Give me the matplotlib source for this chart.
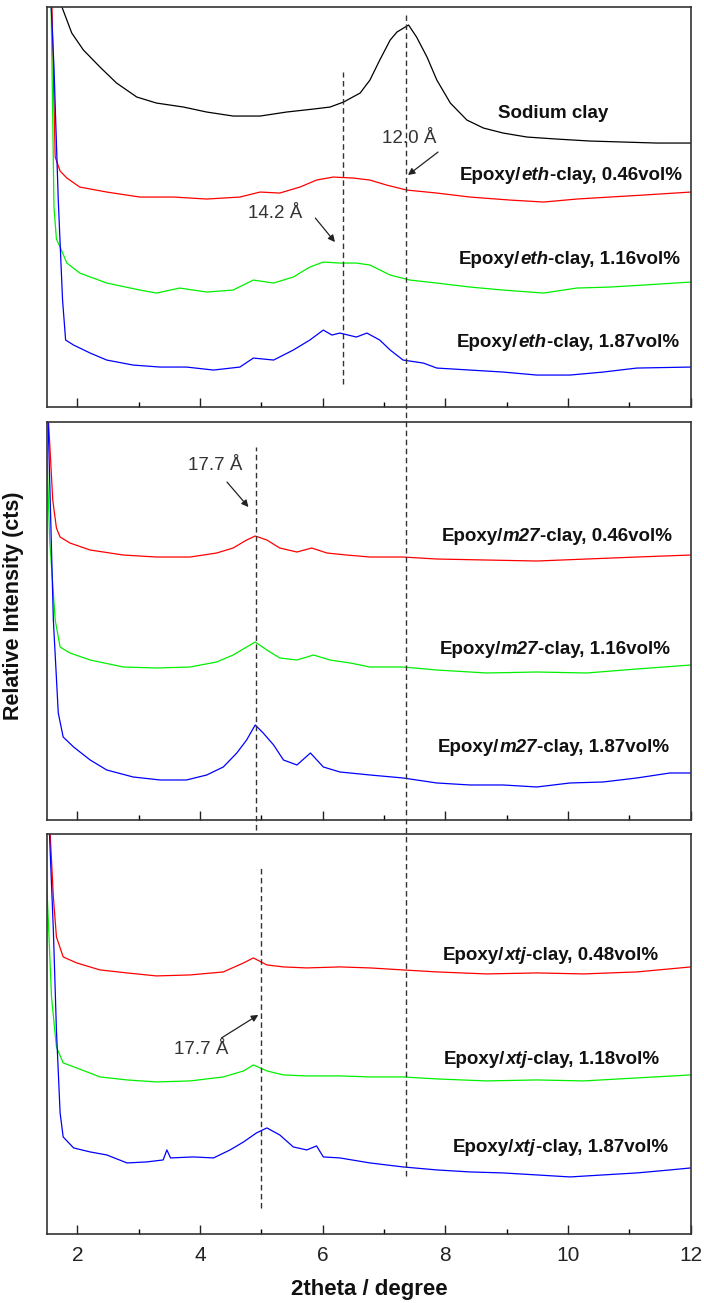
import matplotlib
matplotlib.use("Agg")
import matplotlib.pyplot as plt
from matplotlib.ticker import MultipleLocator

plt.rcParams["font.family"] = ["Liberation Sans", "DejaVu Sans"]

# ---- data (2theta in degree, intensity in arbitrary units per panel) ----
# panel 1: sodium clay and epoxy/eth-clay
na_x = [1.72, 1.75, 1.91, 2.10, 2.37, 2.64, 2.97, 3.29, 3.73, 4.11, 4.54, 4.98, 5.41, 5.85,
        6.12, 6.34, 6.61, 6.77, 6.93, 7.10, 7.21, 7.40, 7.53, 7.70, 7.86, 8.08, 8.35, 8.62, 8.94,
        9.33, 9.81, 10.36, 10.90, 11.44, 12.0]
na_y = [415, 400, 374, 357, 340, 324, 310, 304, 300, 295, 291, 291, 295, 298,
        300, 305, 314, 327, 347, 367, 375, 382, 370, 350, 327, 304, 287, 279, 274,
        270, 268, 266, 265, 264, 264]

eth046_x = [1.58, 1.64, 1.72, 1.83, 2.04, 2.48, 3.02, 3.57, 4.11, 4.65, 4.98, 5.30, 5.63, 5.90,
            6.17, 6.50, 6.77, 7.04, 7.37, 7.86, 8.40, 9.05, 9.60, 10.14, 10.68, 11.23, 12.0]
eth046_y = [420, 250, 236, 229, 220, 215, 210, 210, 208, 210, 215, 214, 220, 227,
            230, 229, 227, 222, 217, 214, 210, 207, 205, 208, 210, 212, 215]

eth116_x = [1.57, 1.62, 1.66, 1.72, 1.83, 2.04, 2.48, 3.02, 3.29, 3.67, 4.11, 4.54, 4.87, 5.20,
            5.52, 5.79, 6.01, 6.28, 6.55, 6.77, 7.10, 7.42, 7.86, 8.40, 8.94, 9.60, 10.14, 10.68,
            11.23, 12.0]
eth116_y = [420, 200, 168, 160, 144, 134, 124, 117, 114, 119, 115, 117, 127, 124,
            130, 140, 145, 144, 144, 142, 132, 127, 124, 120, 117, 114, 119, 120,
            122, 125]

eth187_x = [1.56, 1.62, 1.69, 1.76, 1.81, 1.94, 2.21, 2.48, 2.91, 3.35, 3.78, 4.22, 4.65, 4.87,
            5.20, 5.52, 5.79, 6.01, 6.15, 6.28, 6.55, 6.72, 6.93, 7.10, 7.31, 7.64, 7.86, 8.40,
            8.94, 9.49, 10.03, 10.57, 11.12, 12.0]
eth187_y = [420, 340, 207, 107, 67, 62, 54, 47, 42, 40, 40, 37, 40, 49,
            47, 57, 67, 77, 72, 74, 70, 74, 67, 57, 47, 44, 39, 37,
            35, 32, 32, 35, 39, 40]

# panel 2: epoxy/m27-clay
m27046_x = [1.53, 1.60, 1.66, 1.72, 1.88, 2.21, 2.75, 3.29, 3.84, 4.27, 4.54, 4.76, 4.90, 5.09,
            5.30, 5.58, 5.82, 6.07, 6.39, 6.77, 7.31, 7.86, 8.67, 9.49, 10.30, 11.12, 12.0]
m27046_y = [400, 320, 292, 283, 277, 270, 265, 263, 263, 267, 272, 280, 284, 280,
            272, 268, 272, 267, 265, 263, 263, 261, 260, 259, 261, 263, 265]

m27116_x = [1.50, 1.55, 1.64, 1.72, 1.88, 2.21, 2.75, 3.29, 3.84, 4.27, 4.54, 4.76, 4.90, 5.09,
            5.30, 5.58, 5.85, 6.12, 6.45, 6.77, 7.31, 7.86, 8.67, 9.49, 10.30, 11.12, 12.0]
m27116_y = [377, 280, 200, 173, 167, 160, 153, 152, 153, 158, 165, 173, 178, 170,
            162, 160, 165, 160, 157, 153, 153, 150, 147, 148, 147, 151, 155]

m27187_x = [1.52, 1.61, 1.69, 1.77, 1.94, 2.21, 2.48, 2.91, 3.35, 3.78, 4.11, 4.38, 4.60, 4.76,
            4.90, 5.03, 5.20, 5.36, 5.58, 5.80, 6.01, 6.28, 6.77, 7.31, 7.86, 8.40, 8.94, 9.49,
            10.03, 10.57, 11.12, 11.66, 12.0]
m27187_y = [410, 200, 107, 83, 73, 60, 50, 43, 40, 40, 45, 53, 67, 80,
            95, 87, 75, 60, 55, 67, 53, 48, 45, 42, 37, 35, 35, 33,
            37, 38, 42, 47, 47]

# panel 3: epoxy/xtj-clay
xtj048_x = [1.55, 1.61, 1.66, 1.77, 1.99, 2.37, 2.81, 3.29, 3.84, 4.38, 4.71, 4.87, 5.09, 5.36,
            5.74, 6.28, 6.77, 7.31, 7.86, 8.67, 9.49, 10.25, 11.12, 12.0]
xtj048_y = [410, 337, 297, 277, 271, 264, 261, 258, 259, 262, 271, 276, 269, 267,
            266, 267, 266, 264, 262, 260, 261, 260, 262, 267]

xtj118_x = [1.50, 1.58, 1.66, 1.77, 1.99, 2.37, 2.81, 3.29, 3.84, 4.38, 4.71, 4.87, 5.09, 5.36,
            5.74, 6.28, 6.77, 7.31, 7.86, 8.67, 9.49, 10.25, 11.12, 12.0]
xtj118_y = [354, 237, 187, 171, 166, 157, 154, 152, 153, 157, 163, 169, 163, 159,
            158, 158, 157, 157, 155, 153, 154, 153, 156, 159]

xtj187_x = [1.54, 1.61, 1.66, 1.72, 1.77, 1.94, 2.21, 2.48, 2.81, 3.13, 3.40, 3.46, 3.52, 3.89,
            4.22, 4.49, 4.71, 4.92, 5.09, 5.30, 5.52, 5.74, 5.90, 6.01, 6.28, 6.77, 7.31, 7.86,
            8.40, 8.94, 9.49, 10.03, 10.57, 11.12, 11.66, 12.0]
xtj187_y = [410, 304, 204, 121, 97, 86, 82, 79, 71, 72, 74, 84, 76, 77,
            76, 84, 92, 101, 106, 99, 87, 84, 88, 77, 76, 71, 67, 64,
            62, 61, 59, 57, 59, 61, 64, 66]

panels = [
    [(na_x, na_y, "black"), (eth046_x, eth046_y, "#ff0000"),
     (eth116_x, eth116_y, "#00f000"), (eth187_x, eth187_y, "#0000ff")],
    [(m27046_x, m27046_y, "#ff0000"), (m27116_x, m27116_y, "#00f000"),
     (m27187_x, m27187_y, "#0000ff")],
    [(xtj048_x, xtj048_y, "#ff0000"), (xtj118_x, xtj118_y, "#00f000"),
     (xtj187_x, xtj187_y, "#0000ff")],
]

# curve labels: (x, y, before, italic part, after)
labels = [
    [(8.86, 294, "Sodium clay", "", ""),
     (8.24, 232, "Epoxy/", "eth", "-clay, 0.46vol%"),
     (8.22, 148, "Epoxy/", "eth", "-clay, 1.16vol%"),
     (8.19, 65, "Epoxy/", "eth", "-clay, 1.87vol%")],
    [(7.94, 284, "Epoxy/", "m27", "-clay, 0.46vol%"),
     (7.90, 171, "Epoxy/", "m27", "-clay, 1.16vol%"),
     (7.88, 72, "Epoxy/", "m27", "-clay, 1.87vol%")],
    [(7.96, 278, "Epoxy/", "xtj", "-clay, 0.48vol%"),
     (7.98, 174, "Epoxy/", "xtj", "-clay, 1.18vol%"),
     (8.12, 86, "Epoxy/", "xtj", "-clay, 1.87vol%")],
]

# d-spacing notes: text, text pos, arrow tail, arrow head
notes = [
    [("12.0 Å", (7.41, 269), (7.88, 255), (7.39, 232)),
     ("14.2 Å", (5.22, 194), (5.88, 189), (6.20, 165))],
    [("17.7 Å", (4.24, 355), (4.44, 338), (4.79, 313))],
    [("17.7 Å", (4.02, 184), (4.35, 196), (4.95, 219))],
]

# dashed guides: (panel, x, ymin, ymax) in axes fraction
guides = [(0, 6.33, 0.0575, 0.8375), (1, 4.91, -0.025, 0.937),
          (2, 4.99, 0.065, 0.915), (2, 7.35, 0.145, 3.0475)]

fig = plt.figure(figsize=(7.04, 13.03), dpi=100)
rects = [[0.0662, 0.6876, 0.9151, 0.3070],
         [0.0662, 0.3707, 0.9151, 0.3054],
         [0.0662, 0.0530, 0.9151, 0.3070]]
axes = [fig.add_axes(r) for r in rects]
ylims = [400, 398, 400]

fs_lab = 13.5
for i, ax in enumerate(axes):
    for x, y, c in panels[i]:
        ax.plot(x, y, color=c, lw=0.9)
    ax.set_xlim(1.5, 12)
    ax.set_ylim(0, ylims[i])
    ax.set_yticks([])
    ax.xaxis.set_major_locator(MultipleLocator(2))
    ax.xaxis.set_minor_locator(MultipleLocator(1))
    ax.tick_params(axis="x", which="major", direction="in", length=6.5, width=1.0,
                   labelsize=15, pad=9, colors="#222222")
    ax.tick_params(axis="x", which="minor", direction="in", length=3.5, width=1.0)
    if i < 2:
        ax.tick_params(axis="x", labelbottom=False)
    for s in ax.spines.values():
        s.set_linewidth(1.2)
        s.set_color("#333333")

    for x, y, pre, it, post in labels[i]:
        t = ax.text(x, y, pre, fontsize=fs_lab, fontweight="bold", va="center",
                    ha="left", color="#111111")
        if it:
            t = ax.annotate(it, xy=(1, 0), xycoords=t, va="bottom", ha="left",
                            fontsize=fs_lab, fontweight="bold", fontstyle="italic",
                            color="#111111")
            ax.annotate(post, xy=(1, 0), xycoords=t, va="bottom", ha="left",
                        fontsize=fs_lab, fontweight="bold", color="#111111")

    for txt, pos, tail, head in notes[i]:
        ax.text(pos[0], pos[1], txt, fontsize=13.5, ha="center", va="center",
                color="#333333")
        ax.annotate("", xy=head, xytext=tail,
                    arrowprops=dict(arrowstyle="-|>", lw=0.9, color="#222222",
                                    mutation_scale=10, shrinkA=0, shrinkB=0))

for p, x, y0, y1 in guides:
    axes[p].axvline(x, y0, y1, color="#333333", lw=1.0,
                    linestyle=(0, (4, 2.5)), clip_on=False, zorder=5)

fig.text(14 / 704, 1 - 606 / 1303, "Relative Intensity (cts)", rotation=90,
         ha="center", va="center", fontsize=15.5, fontweight="bold", color="#111111")
fig.text(369 / 704, 1 - 1289 / 1303, "2theta / degree", ha="center", va="center",
         fontsize=16, fontweight="bold", color="#111111")

fig.savefig("out.png", dpi=100)
